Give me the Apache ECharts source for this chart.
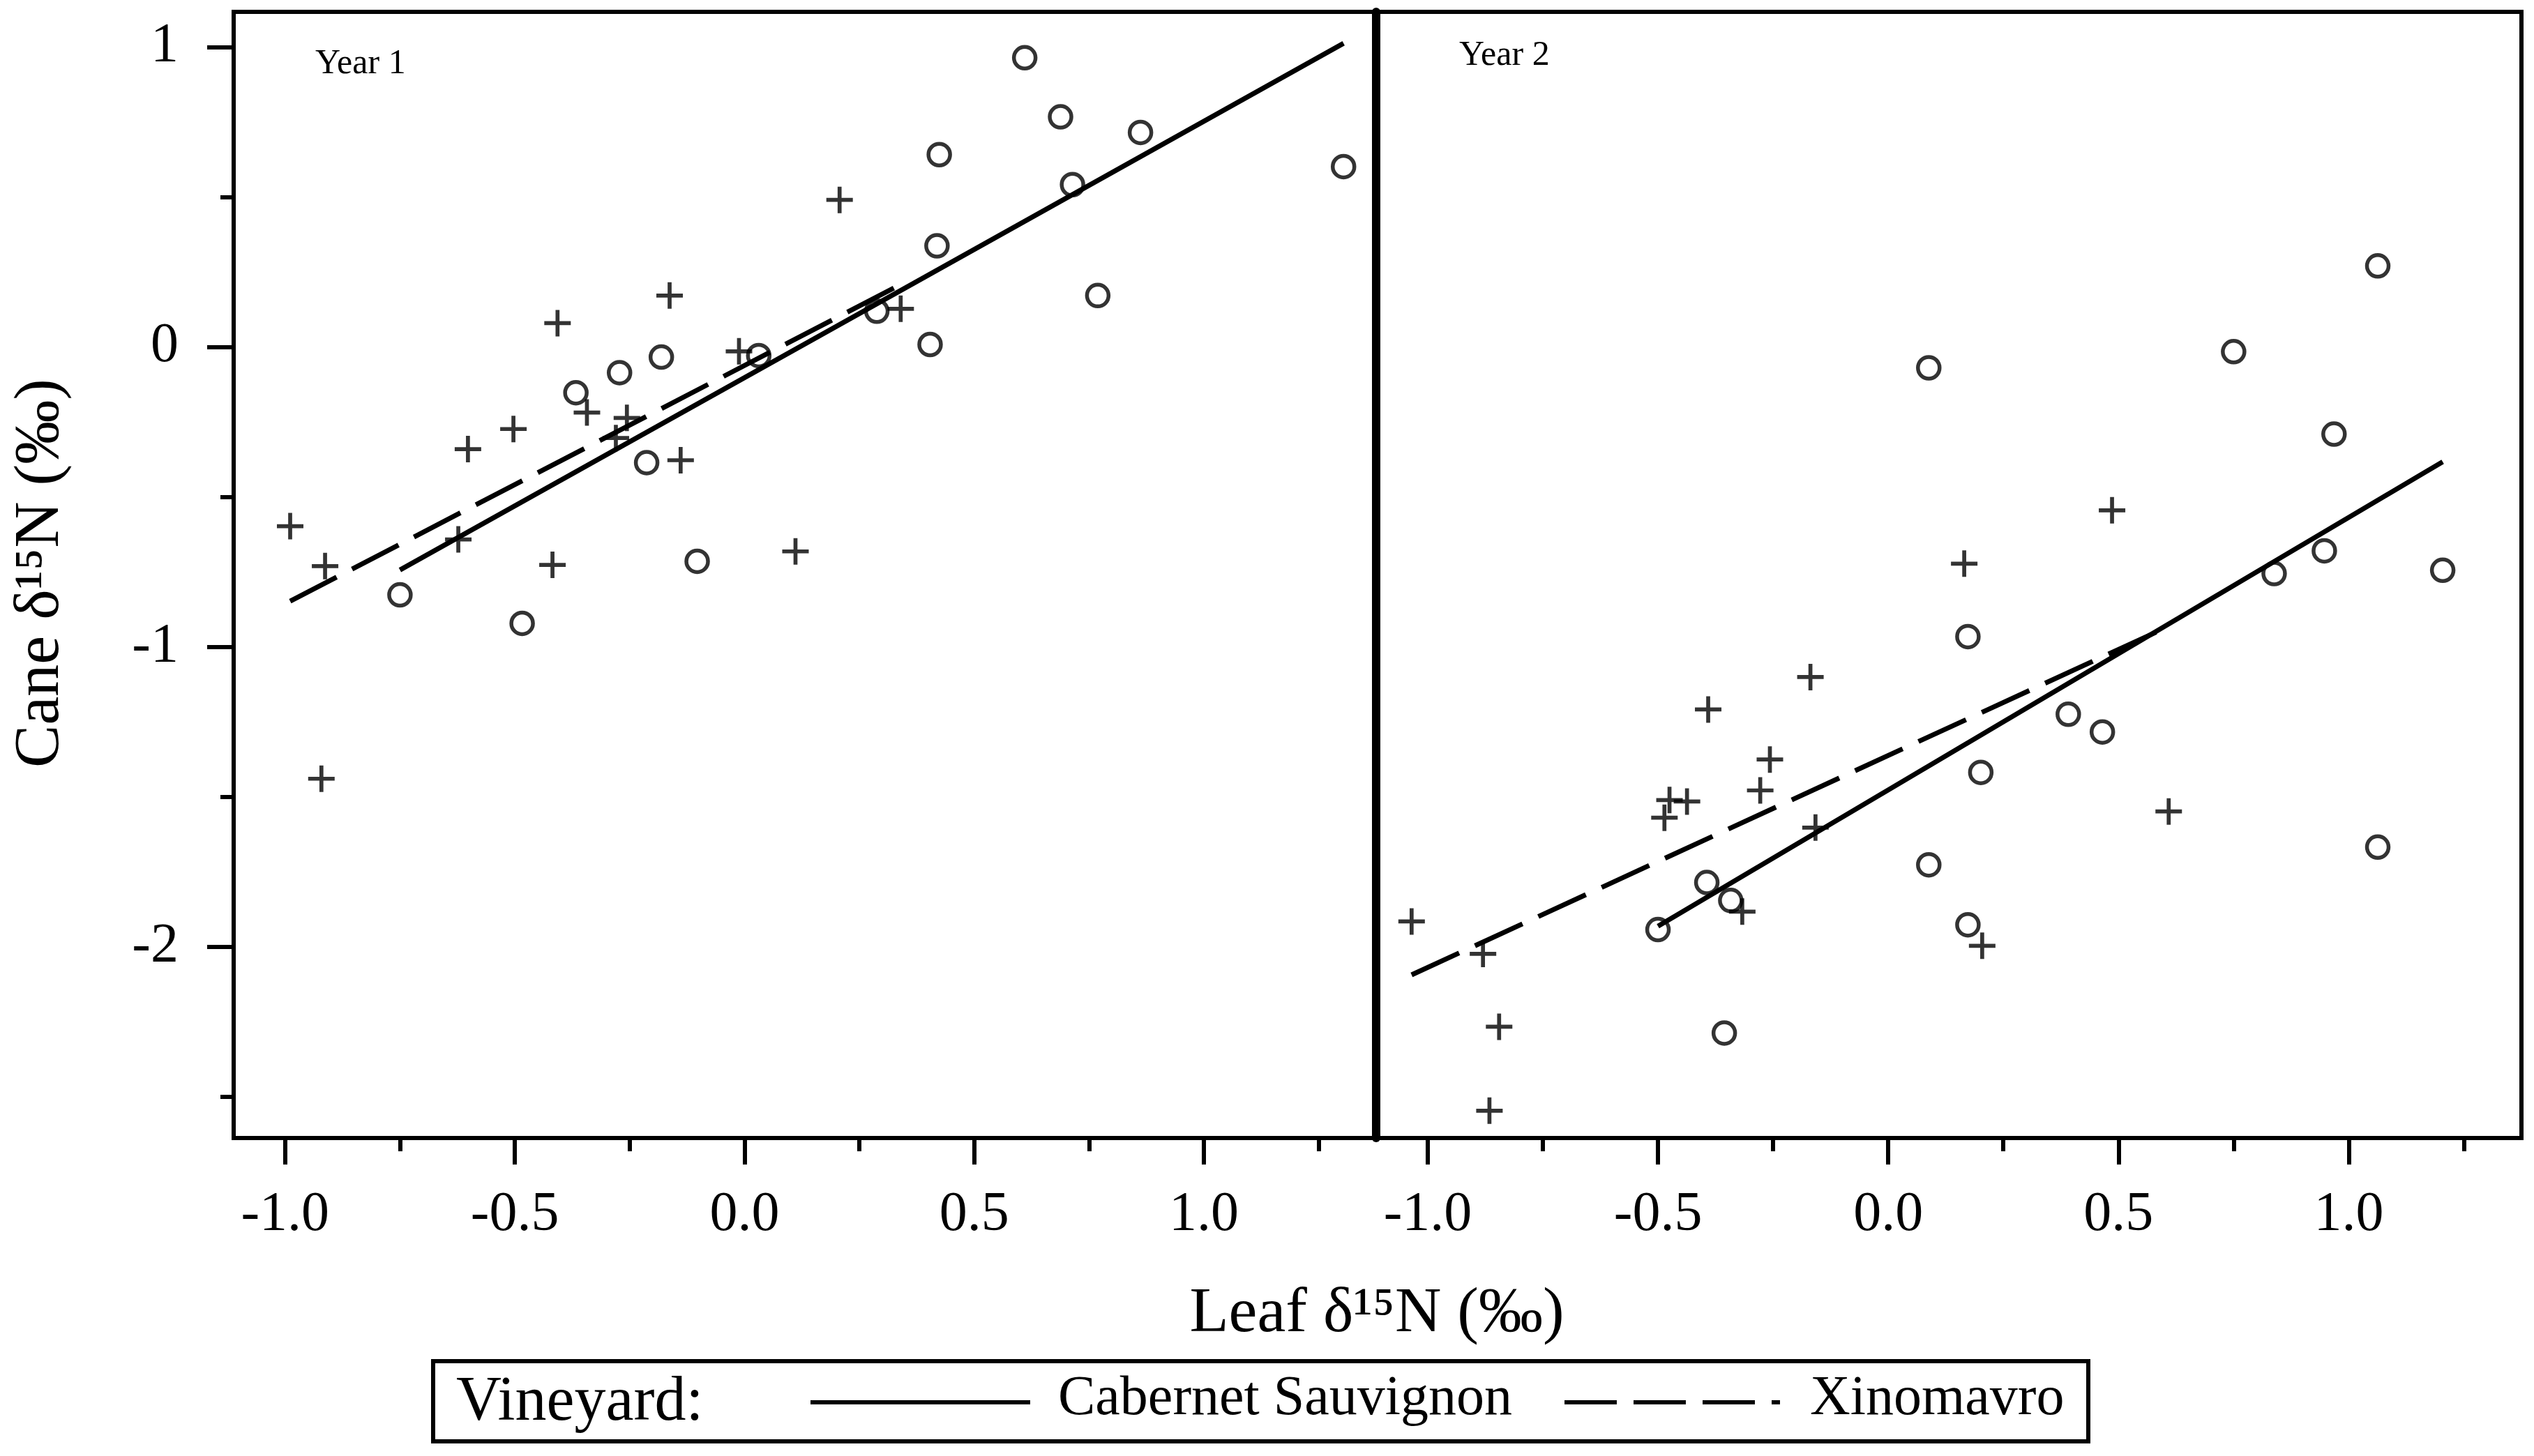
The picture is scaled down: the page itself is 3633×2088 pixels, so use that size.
<!DOCTYPE html>
<html>
<head>
<meta charset="utf-8">
<script src="https://cdn.jsdelivr.net/npm/echarts@6/dist/echarts.min.js"></script>
<style>
html,body{margin:0;padding:0;background:#fff;}
#chart{width:3633px;height:2088px;}
</style>
</head>
<body>
<div id="chart"></div>
<script>
// ---------- data ----------
const panelLabels = ['Year 1', 'Year 2'];
const vineyards = ['Cabernet Sauvignon', 'Xinomavro'];
const legendTitle = 'Vineyard:';
const xAxisTitle = 'Leaf \u03b4\u00b9\u2075N (\u2030)';
const yAxisTitle = 'Cane \u03b4\u00b9\u2075N (\u2030)';

const xMajorTicks = [-1, -0.5, 0, 0.5, 1];
const xMinorTicks = [-0.75, -0.25, 0.25, 0.75, 1.25];
const yMajorTicks = [-2, -1, 0, 1];
const yMinorTicks = [-2.5, -1.5, -0.5, 0.5];
const xRange = [-1.112, 1.375];
const yRange = [-2.638, 1.117];

// Year 1 – Cabernet Sauvignon (circles)
const year1Cabernet = [
  [-0.750, -0.827], [-0.484, -0.922], [-0.367, -0.153], [-0.272, -0.086],
  [-0.213, -0.386], [-0.181, -0.034], [-0.103, -0.715], [0.031, -0.029],
  [0.288, 0.119], [0.404, 0.008], [0.419, 0.337], [0.424, 0.641],
  [0.610, 0.964], [0.688, 0.767], [0.714, 0.541], [0.769, 0.171],
  [0.862, 0.715], [1.304, 0.601]
];
// Year 1 – Xinomavro (plus)
const year1Xinomavro = [
  [-0.989, -0.598], [-0.913, -0.731], [-0.921, -1.440], [-0.623, -0.642],
  [-0.602, -0.341], [-0.503, -0.274], [-0.418, -0.727], [-0.407, 0.079],
  [-0.343, -0.219], [-0.280, -0.304], [-0.256, -0.237], [-0.163, 0.171],
  [-0.139, -0.378], [-0.012, -0.015], [0.111, -0.682], [0.207, 0.490],
  [0.340, 0.127]
];
// Year 2 – Cabernet Sauvignon (circles)
const year2Cabernet = [
  [-0.500, -1.943], [-0.394, -1.786], [-0.356, -2.288], [-0.342, -1.846],
  [0.088, -0.070], [0.088, -1.727], [0.173, -0.966], [0.173, -1.927],
  [0.201, -1.419], [0.391, -1.225], [0.465, -1.284], [0.750, -0.016],
  [0.838, -0.756], [0.947, -0.680], [0.968, -0.291], [1.063, 0.270],
  [1.063, -1.668], [1.204, -0.745]
];
// Year 2 – Xinomavro (plus)
const year2Xinomavro = [
  [-1.035, -1.916], [-0.880, -2.024], [-0.845, -2.267], [-0.866, -2.547],
  [-0.486, -1.570], [-0.475, -1.511], [-0.437, -1.516], [-0.391, -1.209],
  [-0.317, -1.883], [-0.278, -1.479], [-0.257, -1.376], [-0.169, -1.101],
  [-0.158, -1.603], [0.165, -0.723], [0.204, -1.997], [0.486, -0.545],
  [0.609, -1.549]
];
// fitted lines (end points)
const year1CabernetFit = [[-0.750, -0.744], [1.304, 1.012]];
const year1XinomavroFit = [[-0.989, -0.848], [0.340, 0.208]];
const year2CabernetFit = [[-0.500, -1.932], [1.204, -0.383]];
const year2XinomavroFit = [[-1.035, -2.094], [0.609, -0.932]];

// ---------- styling ----------
const FONT = '"Liberation Serif", "Times New Roman", Times, serif';
const BLACK = '#000';
const PLUS = 'path://M-0.15,-1 L0.15,-1 L0.15,-0.15 L1,-0.15 L1,0.15 L0.15,0.15 L0.15,1 L-0.15,1 L-0.15,0.15 L-1,0.15 L-1,-0.15 L-0.15,-0.15 Z';
const DASH = [75, 25];
const FIT_WIDTH = 7;

const chart = echarts.init(document.getElementById('chart'), null, {renderer: 'canvas'});

function xMajor(gridIndex) {
  return {
    type: 'value', gridIndex, position: 'bottom', min: xRange[0], max: xRange[1],
    axisLine: {show: true, onZero: false, lineStyle: {color: BLACK, width: 6}},
    axisTick: {show: true, inside: false, length: 38, customValues: xMajorTicks, lineStyle: {color: BLACK, width: 6}},
    axisLabel: {show: true, customValues: xMajorTicks, margin: 71, color: BLACK, fontFamily: FONT, fontSize: 80,
      formatter: v => Number(v).toFixed(1)},
    splitLine: {show: false}
  };
}
function xMinor(gridIndex) {
  return {
    type: 'value', gridIndex, position: 'bottom', min: xRange[0], max: xRange[1],
    axisLine: {show: false, onZero: false},
    axisTick: {show: true, inside: false, length: 19, customValues: xMinorTicks, lineStyle: {color: BLACK, width: 6}},
    axisLabel: {show: false},
    splitLine: {show: false}
  };
}

const option = {
  animation: false,
  backgroundColor: '#fff',
  grid: [
    {left: 335, top: 17, width: 1638, height: 1615, show: true, borderColor: BLACK, borderWidth: 6, backgroundColor: 'transparent'},
    {left: 1973, top: 17, width: 1642, height: 1615, show: true, borderColor: BLACK, borderWidth: 6, backgroundColor: 'transparent'}
  ],
  xAxis: [xMajor(0), xMinor(0), xMajor(1), xMinor(1)],
  yAxis: [
    {
      type: 'value', gridIndex: 0, position: 'left', min: yRange[0], max: yRange[1],
      axisLine: {show: true, onZero: false, lineStyle: {color: BLACK, width: 6}},
      axisTick: {show: true, inside: false, length: 38, customValues: yMajorTicks, lineStyle: {color: BLACK, width: 6}},
      axisLabel: {show: true, customValues: yMajorTicks, margin: 79, color: BLACK, fontFamily: FONT, fontSize: 80,
        formatter: v => String(Math.round(v))},
      splitLine: {show: false}
    },
    {
      type: 'value', gridIndex: 0, position: 'left', min: yRange[0], max: yRange[1],
      axisLine: {show: false, onZero: false},
      axisTick: {show: true, inside: false, length: 19, customValues: yMinorTicks, lineStyle: {color: BLACK, width: 6}},
      axisLabel: {show: false},
      splitLine: {show: false}
    },
    {
      type: 'value', gridIndex: 1, position: 'left', min: yRange[0], max: yRange[1],
      axisLine: {show: true, onZero: false, lineStyle: {color: BLACK, width: 12}},
      axisTick: {show: false},
      axisLabel: {show: false},
      splitLine: {show: false}
    }
  ],
  series: [
    {name: vineyards[0] + ' fit, ' + panelLabels[0], type: 'line', xAxisIndex: 0, yAxisIndex: 0, data: year1CabernetFit,
      symbol: 'none', lineStyle: {color: BLACK, width: FIT_WIDTH, type: 'solid'}, z: 3},
    {name: vineyards[1] + ' fit, ' + panelLabels[0], type: 'line', xAxisIndex: 0, yAxisIndex: 0, data: year1XinomavroFit,
      symbol: 'none', lineStyle: {color: BLACK, width: FIT_WIDTH, type: DASH}, z: 3},
    {name: vineyards[0] + ' fit, ' + panelLabels[1], type: 'line', xAxisIndex: 2, yAxisIndex: 2, data: year2CabernetFit,
      symbol: 'none', lineStyle: {color: BLACK, width: FIT_WIDTH, type: 'solid'}, z: 3},
    {name: vineyards[1] + ' fit, ' + panelLabels[1], type: 'line', xAxisIndex: 2, yAxisIndex: 2, data: year2XinomavroFit,
      symbol: 'none', lineStyle: {color: BLACK, width: FIT_WIDTH, type: DASH}, z: 3},
    {name: vineyards[0] + ', ' + panelLabels[0], type: 'scatter', xAxisIndex: 0, yAxisIndex: 0, data: year1Cabernet,
      symbol: 'circle', symbolSize: 31, itemStyle: {color: 'rgba(0,0,0,0)', borderColor: BLACK, borderWidth: 5.5}, z: 4},
    {name: vineyards[1] + ', ' + panelLabels[0], type: 'scatter', xAxisIndex: 0, yAxisIndex: 0, data: year1Xinomavro,
      symbol: PLUS, symbolSize: 38, itemStyle: {color: BLACK}, z: 4},
    {name: vineyards[0] + ', ' + panelLabels[1], type: 'scatter', xAxisIndex: 2, yAxisIndex: 2, data: year2Cabernet,
      symbol: 'circle', symbolSize: 31, itemStyle: {color: 'rgba(0,0,0,0)', borderColor: BLACK, borderWidth: 5.5}, z: 4},
    {name: vineyards[1] + ', ' + panelLabels[1], type: 'scatter', xAxisIndex: 2, yAxisIndex: 2, data: year2Xinomavro,
      symbol: PLUS, symbolSize: 38, itemStyle: {color: BLACK}, z: 4}
  ],
  graphic: [
    // panel labels
    {type: 'text', x: 452, y: 92, style: {text: panelLabels[0], fill: BLACK, font: '50px ' + FONT,
      align: 'left', textAlign: 'left', verticalAlign: 'middle', textVerticalAlign: 'middle'}},
    {type: 'text', x: 2092, y: 80, style: {text: panelLabels[1], fill: BLACK, font: '50px ' + FONT,
      align: 'left', textAlign: 'left', verticalAlign: 'middle', textVerticalAlign: 'middle'}},
    // axis titles
    {type: 'text', x: 1974, y: 1885, style: {text: xAxisTitle, fill: BLACK, font: '92px ' + FONT,
      align: 'center', textAlign: 'center', verticalAlign: 'middle', textVerticalAlign: 'middle'}},
    {type: 'text', x: 59, y: 822, rotation: Math.PI / 2, style: {text: yAxisTitle, fill: BLACK, font: '92px ' + FONT,
      align: 'center', textAlign: 'center', verticalAlign: 'middle', textVerticalAlign: 'middle'}},
    // legend box
    {type: 'rect', shape: {x: 621, y: 1952, width: 2373, height: 115},
      style: {fill: 'none', stroke: BLACK, lineWidth: 6}},
    {type: 'text', x: 654, y: 2012, style: {text: legendTitle, fill: BLACK, font: '90px ' + FONT,
      align: 'left', textAlign: 'left', verticalAlign: 'middle', textVerticalAlign: 'middle'}},
    {type: 'line', shape: {x1: 1162, y1: 2011, x2: 1477, y2: 2011}, style: {stroke: BLACK, lineWidth: 6}},
    {type: 'text', x: 1517, y: 2007, style: {text: vineyards[0], fill: BLACK, font: '80px ' + FONT,
      align: 'left', textAlign: 'left', verticalAlign: 'middle', textVerticalAlign: 'middle'}},
    {type: 'line', shape: {x1: 2243, y1: 2011, x2: 2552, y2: 2011}, style: {stroke: BLACK, lineWidth: 6, lineDash: [75, 24]}},
    {type: 'text', x: 2595, y: 2007, style: {text: vineyards[1], fill: BLACK, font: '80px ' + FONT,
      align: 'left', textAlign: 'left', verticalAlign: 'middle', textVerticalAlign: 'middle'}}
  ]
};
chart.setOption(option);
</script>
</body>
</html>
